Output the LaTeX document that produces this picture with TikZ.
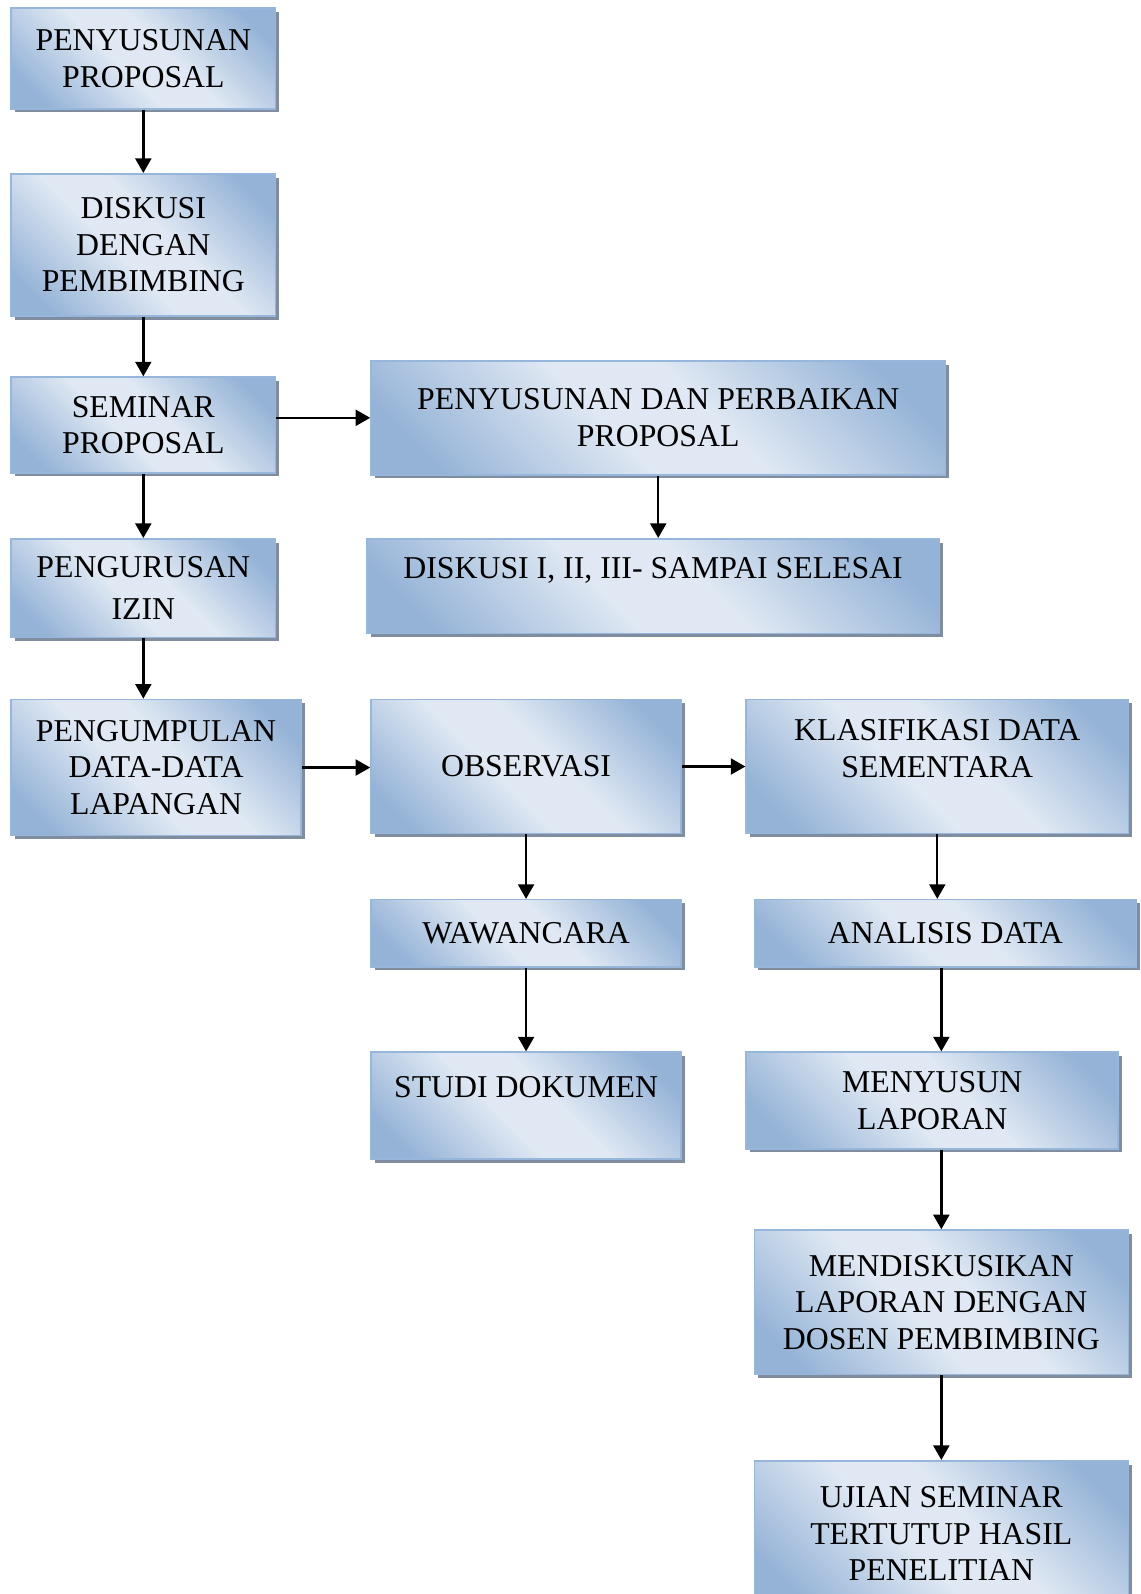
\documentclass[tikz,border=0pt]{standalone}
\usepackage{fontspec}
\setmainfont{Liberation Serif}
\usetikzlibrary{arrows.meta,shadows}
\newlength{\unitpx}
\setlength{\unitpx}{0.3838pt}
\definecolor{boxdark}{RGB}{149,179,215}
\definecolor{boxlight}{RGB}{223,232,243}
\definecolor{boxline}{RGB}{150,182,220}
\definecolor{boxshadow}{RGB}{128,141,158}
\pgfdeclarehorizontalshading{boxshade}{100bp}{color(0bp)=(boxdark); color(22bp)=(boxdark);
	color(44bp)=(boxlight); color(56bp)=(boxlight); color(78bp)=(boxdark); color(100bp)=(boxdark)}
\tikzstyle{box} = [rectangle, align=center, draw=boxline, line width=0.6pt, inner sep=0pt,
	shading=boxshade, shading angle=45,
	drop shadow={shadow xshift=1.4pt, shadow yshift=-1.4pt, fill=boxshadow, opacity=1},
	font=\fontsize{12}{13.8}\selectfont]
\tikzset{boxsize/.style 2 args={minimum width=#1*\unitpx, minimum height=#2*\unitpx}}

\begin{document}
\begin{tikzpicture}[x=\unitpx, y=\unitpx, >={Triangle[length=5.5pt,width=6pt]}, line width=0.9pt]
	\useasboundingbox (0,0) rectangle (1122,-1568);

	% left column
	\node[box, boxsize={260}{99}] at (141,-57.5) (prop) {PENYUSUNAN\\PROPOSAL};
	\node[box, boxsize={260}{140}] at (141,-241) (disk) {DISKUSI\\DENGAN\\PEMBIMBING};
	\node[box, boxsize={260}{94}] at (141,-418) (sem) {SEMINAR\\PROPOSAL};
	\node[box, boxsize={260}{97}] at (141,-578.5) (izin) {PENGURUSAN\\[2.3pt]IZIN};
	\node[box, boxsize={285}{134}] at (153.5,-755) (kumpul) {PENGUMPULAN\\DATA-DATA\\LAPANGAN};

	% middle column
	\node[box, boxsize={565}{112}] at (647.5,-411) (perb) {PENYUSUNAN DAN PERBAIKAN\\PROPOSAL};
	\node[box, boxsize={563}{93}] at (642.5,-576.5) (selesai) {DISKUSI I, II, III- SAMPAI SELESAI\\ \mbox{}};
	\node[box, boxsize={305}{132}] at (517.5,-754) (obs) {OBSERVASI};
	\node[box, boxsize={305}{66}] at (517.5,-918) (waw) {WAWANCARA};
	\node[box, boxsize={305}{105}] at (517.5,-1087.5) (studi) {STUDI DOKUMEN\\ \mbox{}};

	% right column
	\node[box, boxsize={376}{132}] at (922,-754) (klas) {KLASIFIKASI DATA\\SEMENTARA\\ \mbox{}};
	\node[box, boxsize={376}{66}] at (930,-918) (anal) {ANALISIS DATA};
	\node[box, boxsize={366}{95}] at (917,-1082.5) (lapor) {MENYUSUN\\LAPORAN};
	\node[box, boxsize={368}{142}] at (926,-1281) (mend) {MENDISKUSIKAN\\LAPORAN DENGAN\\DOSEN PEMBIMBING};
	\node[box, boxsize={368}{143}] at (926,-1508.5) (ujian) {UJIAN SEMINAR\\TERTUTUP HASIL\\PENELITIAN};

	\foreach \a\b in {prop/disk, disk/sem, sem/izin, izin/kumpul, perb/selesai,
		obs/waw, waw/studi, klas/anal, mend/ujian}{
		\draw[->] (\a.south) -- (\a.south |- \b.north);
	}
	\draw[->] (anal.south -| mend.north) -- (lapor.north -| mend.north);
	\draw[->] (lapor.south -| mend.north) -- (mend.north);
	\draw[->] (sem.east |- perb.west) -- (perb.west);
	\draw[->] (kumpul.east) -- (kumpul.east -| obs.west);
	\draw[->] (obs.east) -- (obs.east -| klas.west);
\end{tikzpicture}
\end{document}
